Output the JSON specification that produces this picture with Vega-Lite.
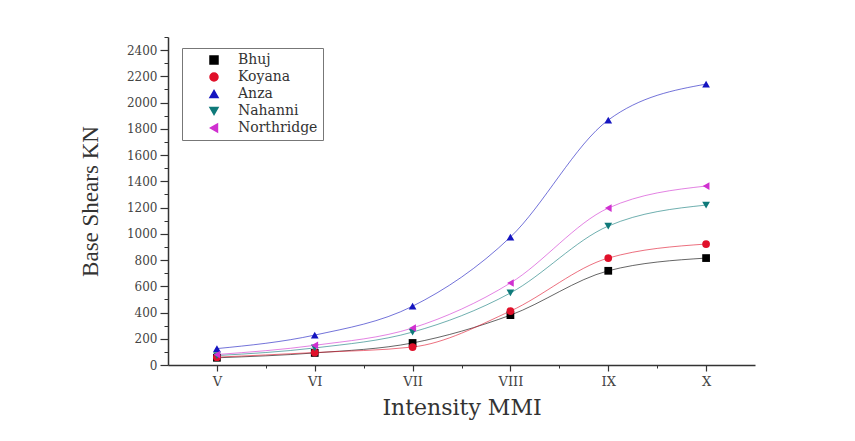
{
  "$schema": "https://vega.github.io/schema/vega-lite/v6.json",
  "autosize": {"type": "none"},
  "width": 587,
  "height": 328,
  "padding": {"left": 168, "top": 37, "right": 100, "bottom": 76},
  "background": "white",
  "config": {
    "view": {"stroke": null},
    "font": "DejaVu Serif",
    "axis": {"grid": false, "domainColor": "#333", "domainWidth": 1.5, "tickColor": "#333", "labelFont": "DejaVu Serif", "titleFont": "DejaVu Serif", "labelColor": "#444", "titleColor": "#333", "titleFontWeight": "normal"},
    "legend": {"labelFont": "DejaVu Serif"}
  },
  "data": {
    "values": [
      {"series": "Bhuj", "mmi": "V", "n": 5, "shear": 55},
      {"series": "Bhuj", "mmi": "VI", "n": 6, "shear": 92},
      {"series": "Bhuj", "mmi": "VII", "n": 7, "shear": 168},
      {"series": "Bhuj", "mmi": "VIII", "n": 8, "shear": 380},
      {"series": "Bhuj", "mmi": "IX", "n": 9, "shear": 718},
      {"series": "Bhuj", "mmi": "X", "n": 10, "shear": 815},
      {"series": "Koyana", "mmi": "V", "n": 5, "shear": 60},
      {"series": "Koyana", "mmi": "VI", "n": 6, "shear": 95},
      {"series": "Koyana", "mmi": "VII", "n": 7, "shear": 137},
      {"series": "Koyana", "mmi": "VIII", "n": 8, "shear": 411},
      {"series": "Koyana", "mmi": "IX", "n": 9, "shear": 815},
      {"series": "Koyana", "mmi": "X", "n": 10, "shear": 922},
      {"series": "Anza", "mmi": "V", "n": 5, "shear": 125},
      {"series": "Anza", "mmi": "VI", "n": 6, "shear": 228},
      {"series": "Anza", "mmi": "VII", "n": 7, "shear": 448},
      {"series": "Anza", "mmi": "VIII", "n": 8, "shear": 975},
      {"series": "Anza", "mmi": "IX", "n": 9, "shear": 1867},
      {"series": "Anza", "mmi": "X", "n": 10, "shear": 2141},
      {"series": "Nahanni", "mmi": "V", "n": 5, "shear": 72},
      {"series": "Nahanni", "mmi": "VI", "n": 6, "shear": 130},
      {"series": "Nahanni", "mmi": "VII", "n": 7, "shear": 251},
      {"series": "Nahanni", "mmi": "VIII", "n": 8, "shear": 549},
      {"series": "Nahanni", "mmi": "IX", "n": 9, "shear": 1059},
      {"series": "Nahanni", "mmi": "X", "n": 10, "shear": 1219},
      {"series": "Northridge", "mmi": "V", "n": 5, "shear": 80},
      {"series": "Northridge", "mmi": "VI", "n": 6, "shear": 150},
      {"series": "Northridge", "mmi": "VII", "n": 7, "shear": 282},
      {"series": "Northridge", "mmi": "VIII", "n": 8, "shear": 625},
      {"series": "Northridge", "mmi": "IX", "n": 9, "shear": 1196},
      {"series": "Northridge", "mmi": "X", "n": 10, "shear": 1364}
    ]
  },
  "layer": [
    {
      "transform": [{"calculate": "datum.series", "as": "curve"}],
      "mark": {"type": "line", "interpolate": "monotone", "strokeWidth": 1, "opacity": 0.6},
      "encoding": {
        "x": {"field": "n", "type": "quantitative", "scale": {"domain": [4.5, 10.5], "nice": false, "zero": false},
          "axis": {"values": [5, 6, 7, 8, 9, 10], "labelExpr": "['V','VI','VII','VIII','IX','X'][datum.value-5]", "title": "Intensity MMI", "titleFontSize": 22, "labelFontSize": 13, "tickSize": 6, "labelPadding": 4, "titlePadding": 9, "tickWidth": 1.2}},
        "y": {"field": "shear", "type": "quantitative", "scale": {"domain": [0, 2500], "nice": false},
          "axis": {"values": [0, 200, 400, 600, 800, 1000, 1200, 1400, 1600, 1800, 2000, 2200, 2400], "format": "d", "title": "Base Shears KN", "titleFont": "Liberation Serif", "titleFontSize": 23, "labelFontSize": 12, "tickSize": 8, "labelPadding": 3, "titlePadding": 24, "tickWidth": 1.2}},
        "stroke": {"field": "curve", "type": "nominal", "scale": {"domain": ["Bhuj", "Koyana", "Anza", "Nahanni", "Northridge"], "range": ["#000000", "#e0102a", "#1515c0", "#0f7a7a", "#d030d0"]},
          "legend": {"title": null, "orient": "none", "legendX": 14, "legendY": 11, "padding": 5, "symbolSize": 64, "symbolOpacity": 1, "symbolOffset": 20, "labelFontSize": 14, "labelColor": "#333", "rowPadding": 3, "labelOffset": 17}}
      }
    },
    {
      "mark": {"type": "point", "filled": true, "opacity": 1, "size": 60},
      "encoding": {
        "x": {"field": "n", "type": "quantitative",
          "axis": {"orient": "bottom", "values": [5.5, 6.5, 7.5, 8.5, 9.5], "labels": false, "title": null, "domain": false, "tickSize": 3, "tickWidth": 1}},
        "y": {"field": "shear", "type": "quantitative",
          "axis": {"orient": "left", "values": [100, 300, 500, 700, 900, 1100, 1300, 1500, 1700, 1900, 2100, 2300, 2500], "labels": false, "title": null, "domain": false, "tickSize": 4, "tickWidth": 1}},
        "color": {"field": "series", "type": "nominal", "scale": {"domain": ["Bhuj", "Koyana", "Anza", "Nahanni", "Northridge"], "range": ["#000000", "#e0102a", "#1515c0", "#0f7a7a", "#d030d0"]},
          "legend": {"title": null, "orient": "none", "legendX": 14, "legendY": 11, "strokeColor": "#777", "padding": 5, "labelFontSize": 14, "labelColor": "#333", "symbolSize": 64, "symbolOpacity": 1, "symbolOffset": 20, "rowPadding": 3, "labelOffset": 17}},
        "shape": {"field": "series", "type": "nominal", "scale": {"domain": ["Bhuj", "Koyana", "Anza", "Nahanni", "Northridge"], "range": ["square", "circle", "triangle-up", "triangle-down", "triangle-left"]}}
      }
    }
  ],
  "resolve": {"axis": {"x": "independent", "y": "independent"}}
}
